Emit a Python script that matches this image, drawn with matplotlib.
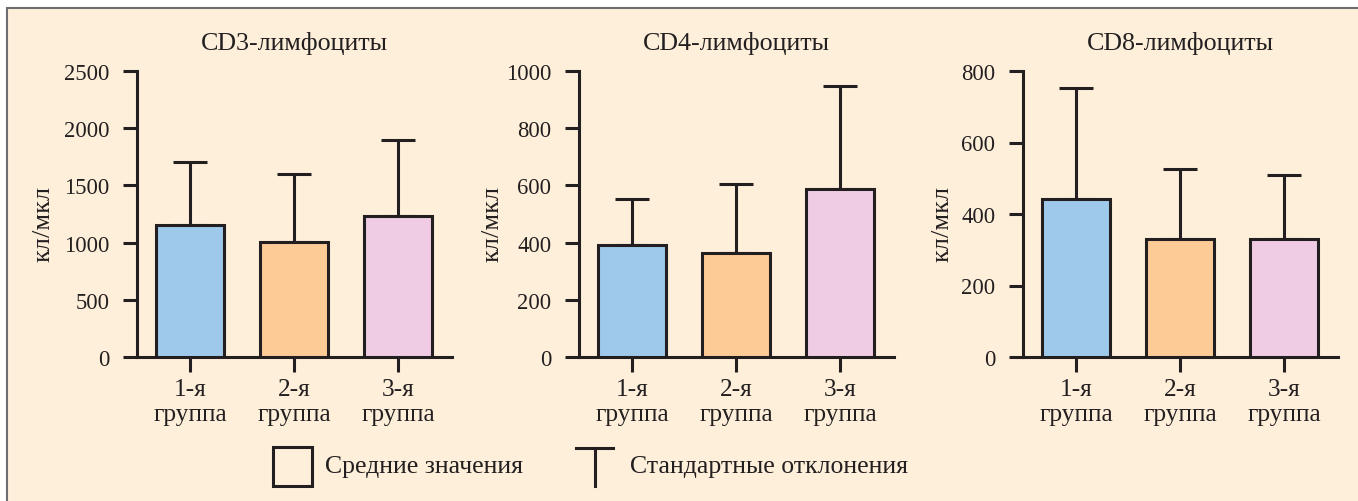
import matplotlib
matplotlib.use("Agg")
import matplotlib.pyplot as plt
from matplotlib.patches import Rectangle
from matplotlib.lines import Line2D

plt.rcParams['font.family'] = ['Liberation Serif', 'DejaVu Serif']

# данные
groups = ['1-я\nгруппа', '2-я\nгруппа', '3-я\nгруппа']
titles = ['CD3-лимфоциты', 'CD4-лимфоциты', 'CD8-лимфоциты']

cd3_mean = [1155, 1005, 1232]
cd3_sd = [547, 595, 662]
cd4_mean = [390, 362, 587]
cd4_sd = [161, 243, 359]
cd8_mean = [443, 331, 329]
cd8_sd = [309, 195, 180]

y_max = [2500, 1000, 800]
y_ticks = [[0, 500, 1000, 1500, 2000, 2500],
           [0, 200, 400, 600, 800, 1000],
           [0, 200, 400, 600, 800]]

bar_colors = ['#9fc9ea', '#fdcb96', '#efcce3']
bg = '#feefda'
dark = '#231f20'

W, H = 1358, 502
fig = plt.figure(figsize=(W / 100, H / 100), dpi=100)
fig.patch.set_facecolor('white')

# рамка
frame = Rectangle((7 / W, -0.1), 1.1, (H - 9) / H + 0.1, transform=fig.transFigure,
                  facecolor=bg, edgecolor='#6d6e71', linewidth=1.5, zorder=0)
fig.add_artist(frame)

lefts = [137, 579, 1023]
label_x = [43, 492, 942]
means = [cd3_mean, cd4_mean, cd8_mean]
sds = [cd3_sd, cd4_sd, cd8_sd]

for i in range(3):
    ax = fig.add_axes([lefts[i] / W, (H - 358) / H, 315 / W, 286 / H])
    ax.set_facecolor('none')
    x = range(len(groups))
    ax.bar(x, means[i], width=0.655, color=bar_colors, edgecolor=dark,
           linewidth=2.2, zorder=3)
    ax.errorbar(x, means[i], yerr=[[0, 0, 0], sds[i]], fmt='none', ecolor=dark,
                elinewidth=2.2, capsize=12, capthick=2.2, zorder=2)
    ax.set_xlim(-0.51, 2.52)
    ax.set_ylim(0, y_max[i])
    ax.set_yticks(y_ticks[i])
    ax.set_xticks(list(x))
    ax.set_xticklabels(groups, fontsize=18.3, linespacing=1.2)
    ax.tick_params(axis='y', direction='out', length=10, width=2.2, pad=10,
                   labelsize=16.3, colors=dark)
    ax.tick_params(axis='x', direction='out', length=11, width=2.2, pad=4,
                   colors=dark)
    for s in ['top', 'right']:
        ax.spines[s].set_visible(False)
    for s in ['left', 'bottom']:
        ax.spines[s].set_linewidth(2.2)
        ax.spines[s].set_color(dark)
    ax.set_title(titles[i], fontsize=18.7, pad=15.5, color=dark)
    ax.text((label_x[i] - lefts[i]) / 315, 0.47, 'кл/мкл', transform=ax.transAxes,
            rotation=90, ha='center', va='center', fontsize=19, color=dark)

# легенда
box = Rectangle((273 / W, (H - 487) / H), 39 / W, 39 / H, transform=fig.transFigure,
                facecolor='none', edgecolor=dark, linewidth=2.2)
fig.add_artist(box)
fig.text(325 / W, (H - 467) / H, 'Средние значения', fontsize=18.5, color=dark,
         va='center', ha='left')
fig.add_artist(Line2D([576 / W, 613 / W], [(H - 449) / H, (H - 449) / H],
                      transform=fig.transFigure, color=dark, linewidth=2.2))
fig.add_artist(Line2D([595 / W, 595 / W], [(H - 449) / H, (H - 487) / H],
                      transform=fig.transFigure, color=dark, linewidth=2.2))
fig.text(630 / W, (H - 467) / H, 'Стандартные отклонения', fontsize=18.5, color=dark,
         va='center', ha='left')

fig.savefig('out.png', dpi=100, facecolor=fig.get_facecolor())
